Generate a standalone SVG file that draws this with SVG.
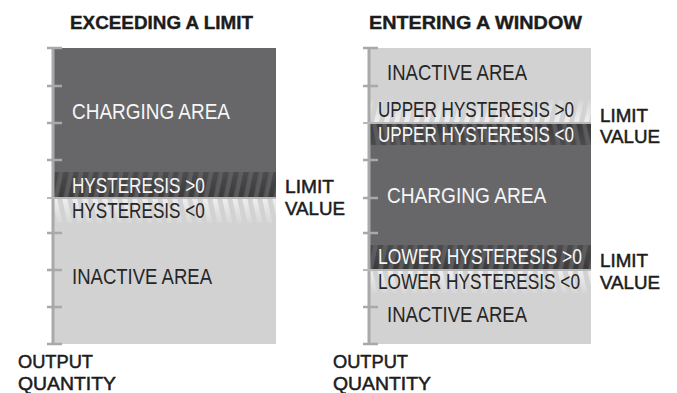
<svg xmlns="http://www.w3.org/2000/svg" width="677" height="393" viewBox="0 0 677 393">
<style>
  .title{font-family:"Liberation Sans",Arial,sans-serif;font-weight:bold;font-size:19px;fill:#1c1c1c;stroke:#1c1c1c;stroke-width:0.4}
  .lbl{font-family:"Liberation Sans",Arial,sans-serif;font-size:21.5px}
  .w{fill:#f6f6f6}
  .k{fill:#262626}
  .side{font-family:"Liberation Sans",Arial,sans-serif;font-size:18px;fill:#1c1c1c;stroke:#1c1c1c;stroke-width:0.5}
  .dark{fill:#67676a}
  .light{fill:#d2d2d3}
  .bandbg{fill:#59595c}
  .axis{stroke:#a9a9a9;stroke-width:3;fill:none}
  .tick{stroke:#a9a9a9;stroke-width:2.5;fill:none}
  .limit{stroke:#b8b8b8;stroke-width:2;fill:none}
</style>
<defs>
  <pattern id="dkF" width="10" height="40" patternUnits="userSpaceOnUse" patternTransform="skewX(-12)"><rect width="5.5" height="40" fill="#3a3a3b"/></pattern>
  <pattern id="dkB" width="10" height="40" patternUnits="userSpaceOnUse" patternTransform="skewX(12)"><rect width="5.5" height="40" fill="#3a3a3b"/></pattern>
  <pattern id="ltF" width="10" height="40" patternUnits="userSpaceOnUse" patternTransform="skewX(-12)"><rect width="5" height="40" fill="#efefef"/></pattern>
  <pattern id="ltB" width="10" height="40" patternUnits="userSpaceOnUse" patternTransform="skewX(12)"><rect width="5" height="40" fill="#efefef"/></pattern>
  <linearGradient id="lightUp" x1="0" y1="0" x2="0" y2="1"><stop offset="0" stop-color="#d2d2d3" stop-opacity="0.85"/><stop offset="1" stop-color="#d2d2d3" stop-opacity="0"/></linearGradient>
  <linearGradient id="lightDown" x1="0" y1="0" x2="0" y2="1"><stop offset="0" stop-color="#d2d2d3" stop-opacity="0"/><stop offset="1" stop-color="#d2d2d3" stop-opacity="0.85"/></linearGradient>
  <linearGradient id="darkUp" x1="0" y1="0" x2="0" y2="1"><stop offset="0" stop-color="#67676a" stop-opacity="0.4"/><stop offset="1" stop-color="#67676a" stop-opacity="0"/></linearGradient>
  <linearGradient id="darkDown" x1="0" y1="0" x2="0" y2="1"><stop offset="0" stop-color="#67676a" stop-opacity="0"/><stop offset="1" stop-color="#67676a" stop-opacity="0.4"/></linearGradient>
</defs>

<!-- LEFT PANEL -->
<text id="title-left" class="title" x="70" y="29" textLength="183" lengthAdjust="spacingAndGlyphs">EXCEEDING A LIMIT</text>

<g id="left-charging">
  <rect class="dark" x="54" y="48" width="222" height="150"/>
  <text class="lbl w" transform="translate(72,119) scale(0.8,1)" x="0" y="0" textLength="197.5" lengthAdjust="spacingAndGlyphs">CHARGING AREA</text>
</g>
<g id="left-hyst-pos">
  <rect class="bandbg" x="54" y="172" width="222" height="26"/>
  <rect fill="url(#dkF)" x="54" y="172" width="222" height="26"/>
  <rect fill="url(#darkUp)" x="54" y="172" width="222" height="26"/>
  <text class="lbl w" transform="translate(72,193) scale(0.8,1)" x="0" y="0" textLength="166" lengthAdjust="spacingAndGlyphs">HYSTERESIS &gt;0</text>
</g>
<g id="left-inactive">
  <rect class="light" x="54" y="198" width="222" height="146"/>
  <text class="lbl k" transform="translate(72,284) scale(0.8,1)" x="0" y="0" textLength="175" lengthAdjust="spacingAndGlyphs">INACTIVE AREA</text>
</g>
<g id="left-hyst-neg">
  <rect fill="url(#ltB)" x="54" y="198" width="222" height="25"/>
  <rect fill="url(#lightDown)" x="54" y="198" width="222" height="25"/>
  <text class="lbl k" transform="translate(72,218) scale(0.8,1)" x="0" y="0" textLength="166" lengthAdjust="spacingAndGlyphs">HYSTERESIS &lt;0</text>
</g>
<g id="left-axis">
  <line class="axis" x1="53" y1="47" x2="53" y2="345"/>
  <path class="tick" d="M47 48H62M47 86H62M47 123H62M47 160H62M47 233H62M47 270H62M47 307H62M47 344H62"/>
  <line class="limit" x1="47" y1="198" x2="276" y2="198"/>
</g>
<g id="left-limit-label">
  <text class="side" x="285" y="193" textLength="49" lengthAdjust="spacingAndGlyphs">LIMIT</text>
  <text class="side" x="285" y="215" textLength="60" lengthAdjust="spacingAndGlyphs">VALUE</text>
</g>
<g id="left-output-label">
  <text class="side" x="18" y="368" textLength="75" lengthAdjust="spacingAndGlyphs">OUTPUT</text>
  <text class="side" x="18" y="390" textLength="98" lengthAdjust="spacingAndGlyphs">QUANTITY</text>
</g>

<!-- RIGHT PANEL -->
<text id="title-right" class="title" x="369" y="29" textLength="213" lengthAdjust="spacingAndGlyphs">ENTERING A WINDOW</text>

<g id="right-inactive-top">
  <rect class="light" x="370" y="48" width="221" height="75"/>
  <text class="lbl k" transform="translate(387,80) scale(0.8,1)" x="0" y="0" textLength="175" lengthAdjust="spacingAndGlyphs">INACTIVE AREA</text>
</g>
<g id="right-upper-hyst-pos">
  <rect fill="url(#ltF)" x="370" y="100" width="221" height="23"/>
  <rect fill="url(#lightUp)" x="370" y="100" width="221" height="23"/>
  <text class="lbl k" transform="translate(378,117) scale(0.8,1)" x="0" y="0" textLength="245" lengthAdjust="spacingAndGlyphs">UPPER HYSTERESIS &gt;0</text>
</g>
<g id="right-charging">
  <rect class="dark" x="370" y="123" width="221" height="147"/>
  <text class="lbl w" transform="translate(387,203) scale(0.8,1)" x="0" y="0" textLength="199" lengthAdjust="spacingAndGlyphs">CHARGING AREA</text>
</g>
<g id="right-upper-hyst-neg">
  <rect class="bandbg" x="370" y="123" width="221" height="22"/>
  <rect fill="url(#dkB)" x="370" y="123" width="221" height="22"/>
  <rect fill="url(#darkDown)" x="370" y="123" width="221" height="22"/>
  <text class="lbl w" transform="translate(378,142) scale(0.8,1)" x="0" y="0" textLength="245" lengthAdjust="spacingAndGlyphs">UPPER HYSTERESIS &lt;0</text>
</g>
<g id="right-lower-hyst-pos">
  <rect class="bandbg" x="370" y="245" width="221" height="25"/>
  <rect fill="url(#dkF)" x="370" y="245" width="221" height="25"/>
  <rect fill="url(#darkUp)" x="370" y="245" width="221" height="25"/>
  <text class="lbl w" transform="translate(378,264) scale(0.8,1)" x="0" y="0" textLength="255" lengthAdjust="spacingAndGlyphs">LOWER HYSTERESIS &gt;0</text>
</g>
<g id="right-inactive-bottom">
  <rect class="light" x="370" y="270" width="221" height="74"/>
  <text class="lbl k" transform="translate(387,322) scale(0.8,1)" x="0" y="0" textLength="175" lengthAdjust="spacingAndGlyphs">INACTIVE AREA</text>
</g>
<g id="right-lower-hyst-neg">
  <rect fill="url(#ltB)" x="370" y="270" width="221" height="23"/>
  <rect fill="url(#lightDown)" x="370" y="270" width="221" height="23"/>
  <text class="lbl k" transform="translate(378,289) scale(0.8,1)" x="0" y="0" textLength="252.5" lengthAdjust="spacingAndGlyphs">LOWER HYSTERESIS &lt;0</text>
</g>
<g id="right-axis">
  <line class="axis" x1="369" y1="47" x2="369" y2="345"/>
  <path class="tick" d="M363 48H378M363 86H378M363 160H378M363 198H378M363 233H378M363 307H378M363 344H378"/>
  <line class="limit" x1="363" y1="123" x2="591" y2="123"/>
  <line class="limit" x1="363" y1="270" x2="591" y2="270"/>
</g>
<g id="right-limit-upper-label">
  <text class="side" x="600" y="122" textLength="48" lengthAdjust="spacingAndGlyphs">LIMIT</text>
  <text class="side" x="600" y="143" textLength="60" lengthAdjust="spacingAndGlyphs">VALUE</text>
</g>
<g id="right-limit-lower-label">
  <text class="side" x="600" y="267" textLength="48" lengthAdjust="spacingAndGlyphs">LIMIT</text>
  <text class="side" x="600" y="289" textLength="60" lengthAdjust="spacingAndGlyphs">VALUE</text>
</g>
<g id="right-output-label">
  <text class="side" x="333" y="368" textLength="75" lengthAdjust="spacingAndGlyphs">OUTPUT</text>
  <text class="side" x="333" y="390" textLength="98" lengthAdjust="spacingAndGlyphs">QUANTITY</text>
</g>

<g id="connectors"></g>
</svg>
